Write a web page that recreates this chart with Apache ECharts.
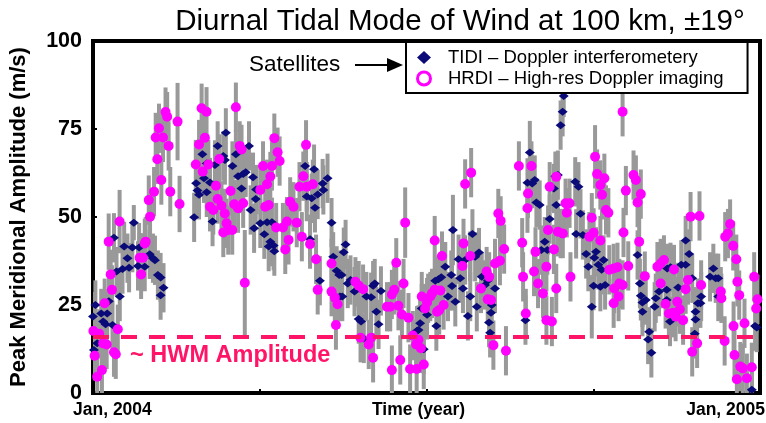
<!DOCTYPE html>
<html>
<head>
<meta charset="utf-8">
<script src="https://cdn.jsdelivr.net/npm/echarts@6/dist/echarts.min.js"></script>
<style>
  html, body { margin: 0; padding: 0; background: #fff; }
  .box1 { width: 766px; height: 423px; }
</style>
</head>
<body>
<div class="box1"></div>
<script>
// day of 2004, amplitude (m/s), optional error half-length (default 7)
var tidiPoints = [
  [0,21.7],[0.5,12.2],[1.3,25],[2.3,14.1],[4.5,22.6],[5.6,20.3],[6.9,19.5],[7.8,22.6],[8.7,26.1],[10.7,19.3],
  [11.5,44.1],[12.9,34.5],[14.7,27.4],[16.2,35.2],[17.1,41.6],[18.9,38.3],[19.8,35.6],[21.6,41.3],[22.4,48.4,5],[24.7,36.1],
  [25.3,41.3],[28.4,35.9],[31.1,39.4],[32.9,38.3],[34,37.7],[35.6,33.5],[37.1,32.8],[38.7,29.9],[37.1,27.8],
  [55.5,49.9],[56.6,59.6],[57.3,57.5],[58.2,56.3],[60,67.8],[60.9,61],[62.4,65.2],[62.4,57],[64.2,59.8],[65.6,48.7],
  [66.9,64.8],[68.4,70.2],[71.5,67.3],[72.4,66.2],[72.9,73.9],[76.5,64.5],[78.4,67.8],[79.6,61.6],[81.5,58.1],[82.4,62.2],
  [83.8,62.7],[85.6,70.2],[86.5,52],[87.8,61.3],[88.4,46.8],[89.3,55.1],[89.5,57.8],
  [91.8,48.2],[94,45.1],[95.5,48.5],[96.4,41.6],[97.3,43],[98.2,48.5],[99.1,41.9],[99.5,40.3],
  [116.4,64.5],[117.3,55.8],[119.1,43.7],[120,55.3],[121.3,63.6],[121.8,52.6],[123.3,56.4],[124.5,31.9],[126,59.5],[126.4,57.7],
  [128.7,61],[130.9,48.4],[131.8,38.7],[133.7,34.7],[135.1,33.5],[135.5,27.4],
  [136.4,33.5],[136.8,27.4],[137.6,40],[138.6,42.2],[139.8,31.1],[141.3,32.1],[143.5,28.8],[145.8,21],[147.1,20.3],[148.6,15.5],
  [150,27.4],[152.6,27.2],[153.7,30.5],[154.6,31.1],[155.5,23.1],[156.7,19.5],[158,29],
  [177.8,17.7],[178.6,17.9],[179.5,19.8],[180.4,24],[181.5,12.4],[183.3,22.2],[183.9,26.9],[187.8,31.9],[188.4,19],[189.6,32.3],
  [191.1,32.9],[193.3,35.9],[194.8,27.4],[196.6,33.5],[197,30.4],[197.5,46.3,10],[198.8,25.9],[200.6,38],[201.5,32.6],[203,29.7],
  [204.2,37.8],[205.7,21.9],[207,38.7],[207,27.4],[208.2,45.2],[209.7,38.7],[210.6,24.5],[211.8,39.9],[213.3,33],[215.1,30.7],
  [216.6,31.9],[217.3,20],[217.9,17.1],[218.4,22.8],[218.8,25],[220.6,29.7],
  [237.3,20.7],[238.4,59.7],[239.7,68.3,9],[241,59.5],[242.4,60.5],[243.3,54.1],[245.1,53.4],[246,40.6],[247.9,43],[249.3,40.6],
  [250.6,49.4],[252.9,58.1],[253.7,61.6],[254.2,53.4],[255.1,61.9],[256.6,45.3],[256.6,76.1],[257.7,79.9],[258.3,84.4,6],
  [264.6,60],[266.4,58.6],[267.5,50.9],[265.1,45.2],[268.8,44.9],[270.6,39.5],[271.8,35.9],[273.7,24.5,9],[274.7,30.5],[275.1,38.4],
  [276,40.1],[277.3,36.4],[278.4,30.2],[279.1,35],[280.2,37.8],[281,30.7],
  [298.8,39.2],[300.1,31.1],[300.6,27.6],[301.5,25.7],[301.5,23.1],[303.3,26.4],[304.6,15.2],[305.2,17.4],[306.4,11.4],[308.2,24.5],
  [308.8,26.9],[310.6,28.8],[314.8,29.3],[314.8,26.4],[315.1,35.4],[316.6,20.3],[316.9,35.7],[321.1,30],[322.8,36.4],[325.2,36.4],
  [325.2,43.3],[327.1,39.5],[328.8,32.6],[330.2,16.8],[330.6,23.1],[330.6,20.9],[331.9,25.5],[333.3,25.5],[333.7,27.4],[338.6,33],
  [340.4,35.4],[341.7,32.6],[343.1,32.6],[343.1,27.4],[361.5,0.9],[363.3,19],[364.2,18.6]
]

var hrdiPoints = [
  [0.2,17.6],[0.9,10.6],[2.3,4.6],[3.4,16.8],[4.9,6.5],[5.6,14.1],[6.4,25.5],[7.5,13.8],[8.6,43,8],[9.7,33.7],
  [10.4,29.3],[11.5,11.6],[12.5,11],[13.6,18.1],[14.6,48.7,9],[25.6,38.4],[26.4,33.7],[27.4,38.4],[28.4,42.5],[28.9,43],
  [30.6,54.8],[31.3,50.1],[33.5,57.2],[34.4,72.6],[35.3,66.4],[36.2,75.2],[37.5,60.5],[38.4,72.6],[39.8,79.8],[40.7,78.5],
  [41.5,70.2],[42.4,57.2],[46.4,77.1,11],[47.5,53.7,8],
  [56.4,64.9],[58.2,70.6],[59.6,80.9],[60.2,62.9],[61.4,72.5],[62.3,79.9],[63.3,64.9],[64.2,52.9],[66,52],[67.5,58.9],
  [68.4,55.1],[69.3,66.5],[70.5,53.2],[71.5,45.6],[72.3,51],[73.3,48.2],[74.2,46.3],[75.5,57.4],[76.4,46.3],[77.5,53.6],
  [78.4,81.2],[79.6,52.5],[80.5,70.2],[81.5,69.2],[82.4,53.9],[83.3,31.3,15],
  [91.8,57.7],[93.3,64.5],[94.5,52.9],[95.5,59.3],[96.4,53.4],[97.3,61.5],[98.2,64.5],[99.5,72.4],[100.5,47],[101.3,68.4],
  [102.4,65.9],[104.2,47],[105.5,40.8],[106.4,48.7],[107.3,43.5],[108.2,54.3],[110,52.9],[111.8,48.4],[113.3,58.6],[114.6,44.4],
  [115.4,61.6],[116.9,70.5],[117.3,58.6],[119.1,42.3],[120.6,59.3],[122.4,38],[123.3,29.3],[130.9,36.8],[130.9,28.8],[132.7,27.1],
  [133.3,19.3],[134.2,25.2],
  [144,31.6],[145.8,30.5],[146.8,15.7],[148.2,29.5],[151.3,13.8],[152.6,15.7],[153.7,10],[161.3,24.5],[163.1,24.5],[164,28],
  [164,6.5],[165.3,29.3],[166.4,37],[167.6,24.8],[168.6,9.4],[169.5,22.3],[170.4,31.1],[171.3,48.4,10],[173.1,21.4],[174,6.8],
  [175.5,16.3],[177.3,13.8],[177.6,6.8],[178.6,15.1],[179.9,12.7],[180.4,27.4],[181.5,8.1],[182.2,24],
  [183.3,25.7],[185.1,27.4],[186,28.3],[187.5,43.3],[187.5,29.3],[188.8,23.1],[190,23.6],[190.6,29.1],[191.5,38.9],[192.4,25],
  [202.7,36.1],[203.3,42.5],[204.2,59.4],[207,38.9],[207.5,62.6],[212.9,29.7],[216,34.5],[216.6,26.6],[217.4,33],[218.4,26.4],
  [219.7,13.6],[220.6,36.8],[222.4,51],[223.3,37.6],[223.7,48.9],[225.6,40.9],[226.6,12],[233.7,64.5],[235.5,42.7],[236,33],
  [237.5,22.6],[238.4,52.5],[238.7,56.7],[240.6,64.5],[242,34.5],[242.8,40.1],[244.2,31.1],[246.9,28.3],[248.8,35.9],[248.8,20.7],
  [249.7,46.3],[250.6,58.6],[251.8,20.3],[252.9,40.8],[254.2,61.4],[254.2,29.7],[255.1,45.8],[257.8,45.3],[259.3,53.9],[260,51.2],
  [261.5,53.9],[262,33],
  [272.4,44.4],[273.7,49.8],[274.7,45.5],[275.5,67.1,9],[276.6,62.2],[278.4,43.3],[278.4,59.1],[279.3,56.3],[280.6,61],[281.5,52],
  [282.8,51.2],[283.3,35],[285.7,35.4],[285.7,25.5],[286,29.7],[287.8,35.7],[288.4,27.4],[288.8,31.1],[290.6,30.7],[290.6,79.9],
  [291.1,45.6],[292.4,57.5],[293.7,36.1],[296.6,61.9],[297.9,60.5],[298.8,54.1],[299.7,43],[300.6,56.5],[302.8,33.2],[309.7,35.9],
  [311.5,36.8],[311.5,31.1],[313.3,37.8],[314.2,25.3],[316,22.6],[318.4,22.8],[318.8,35.1],[319.7,21.7],[320.6,25.9],[322,23.8],
  [323.8,20.7],[325.2,29.5],[326.5,32.1],[327.9,50.1],[328.8,11.7],[331.5,14.1],[332.8,50.3],[333.7,30.7],[344.5,28.8],[344.8,26.9],
  [346.6,14.8],[346.9,44.4],[348.4,45.3],[349.6,48],[351.3,41.8],[351.5,19],[352,10.8],[353,38],[353.3,3.9],[353.6,31.6],
  [354.6,27.8],[355.2,7.5],[356.6,7],[357.5,19.8],[358.8,4.2],[361.5,7.3],[362.8,33],[363.9,24],[364.6,26.6]
]

var yTicks = [0, 25, 50, 75, 100]
var xLabels = ["Jan, 2004", "Time (year)", "Jan, 2005"]
var hwmLevel = 16

var tidiName = "TIDI \u2013 Doppler interferometery"
var hrdiName = "HRDI \u2013 High-res Doppler imaging"

var box1 = document.getElementsByClassName("box1")[0]
var MyEcharts1 = echarts.init(box1)

// error bars for both instruments
var errData = tidiPoints.concat(hrdiPoints).map(function (p) {
    return [p[0], p[1], p.length > 2 ? p[2] : 7]
})

function renderErr(params, api) {
    var x = api.value(0), y = api.value(1), e = api.value(2)
    var lo = api.coord([x, y - e])
    var hi = api.coord([x, y + e])
    return {
        type: "line",
        shape: { x1: lo[0], y1: lo[1], x2: hi[0], y2: hi[1] },
        style: { stroke: "#999999", lineWidth: 4 }
    }
}

var font = "Liberation Sans, Arial, sans-serif"

var option1 = {
    animation: false,
    textStyle: { fontFamily: font },

    // 1. title
    title: {
        text: "Diurnal Tidal Mode of Wind at 100 km, \u00b119\u00b0",
        left: 455,
        textAlign: "center",
        top: 2,
        textStyle: { fontFamily: font, fontSize: 29.5, fontWeight: "normal", color: "#000" }
    },

    // 2. legend
    legend: {
        orient: "vertical",
        left: 406,
        top: 42,
        backgroundColor: "#fff",
        borderColor: "#000",
        borderWidth: 2,
        borderRadius: 0,
        padding: [6, 24, 5, 10],
        itemGap: 2,
        itemWidth: 14,
        itemHeight: 13,
        textStyle: { fontFamily: font, fontSize: 18.5, color: "#000", padding: [0, 0, 0, 12] },
        data: [
            { name: tidiName, icon: "diamond" },
            { name: hrdiName, icon: "circle", itemStyle: { color: "#fff", borderColor: "#ff00ff", borderWidth: 3 } }
        ]
    },

    // 3. plot area
    grid: {
        show: true,
        left: 89,
        right: 6,
        top: 41,
        bottom: 30,
        borderColor: "#000",
        borderWidth: 4,
        backgroundColor: "#fff"
    },

    xAxis: {
        type: "value",
        min: 0,
        max: 366,
        interval: 91.5,
        axisLine: { show: false },
        axisTick: { show: true, inside: true, length: 4, lineStyle: { color: "#000", width: 2 } },
        axisLabel: { show: false },
        splitLine: { show: false }
    },

    yAxis: {
        type: "value",
        min: 0,
        max: 100,
        interval: 25,
        name: "Peak Meridional Amplitude (m/s)",
        nameLocation: "middle",
        nameGap: 63,
        nameTextStyle: { fontFamily: font, fontSize: 22, fontWeight: "bold", color: "#000" },
        axisLine: { show: false },
        axisTick: { show: true, inside: true, length: 4, lineStyle: { color: "#000", width: 2 } },
        axisLabel: {
            margin: 11,
            fontFamily: font,
            fontSize: 21.5,
            fontWeight: "bold",
            color: "#000",
            formatter: function (v) { return yTicks.indexOf(v) >= 0 ? String(v) : "" }
        },
        splitLine: { show: false }
    },

    // 4. texts and arrow
    graphic: [
        { type: "text", left: 73, top: 401, style: { text: xLabels[0], font: "bold 17.5px " + font, fill: "#000" } },
        { type: "text", left: 372, top: 401, style: { text: xLabels[1], font: "bold 17.5px " + font, fill: "#000" } },
        { type: "text", right: 1, top: 401, style: { text: xLabels[2], font: "bold 17.5px " + font, fill: "#000" } },
        { type: "text", left: 249, top: 53, style: { text: "Satellites", font: "22.5px " + font, fill: "#000" } },
        { type: "line", shape: { x1: 355, y1: 65, x2: 390, y2: 65 }, style: { stroke: "#000", lineWidth: 2 } },
        { type: "polygon", shape: { points: [[387, 58], [403, 65], [387, 72]] }, style: { fill: "#000" } },
        { type: "text", left: 130, top: 344, z: 10, style: { text: "~ HWM Amplitude", font: "bold 23.5px " + font, fill: "#ff1468" } }
    ],

    // 5. series
    series: [
        {
            name: "errors",
            type: "custom",
            renderItem: renderErr,
            clip: true,
            encode: { x: 0, y: 1 },
            data: errData,
            z: 1
        },
        {
            name: "hwm",
            type: "line",
            data: [],
            markLine: {
                silent: true,
                symbol: "none",
                label: { show: false },
                lineStyle: { color: "#ff1468", width: 4, type: [16, 12] },
                data: [{ yAxis: hwmLevel }]
            },
            z: 2
        },
        {
            name: tidiName,
            type: "scatter",
            symbol: "diamond",
            symbolSize: [10, 8],
            itemStyle: { color: "#0a0a78", opacity: 1 },
            data: tidiPoints.map(function (p) { return [p[0], p[1]] }),
            z: 3
        },
        {
            name: hrdiName,
            type: "scatter",
            symbol: "circle",
            symbolSize: 10,
            itemStyle: { color: "#ff00ff", opacity: 1 },
            data: hrdiPoints.map(function (p) { return [p[0], p[1]] }),
            z: 3
        }
    ]
}

MyEcharts1.setOption(option1)
</script>
</body>
</html>
